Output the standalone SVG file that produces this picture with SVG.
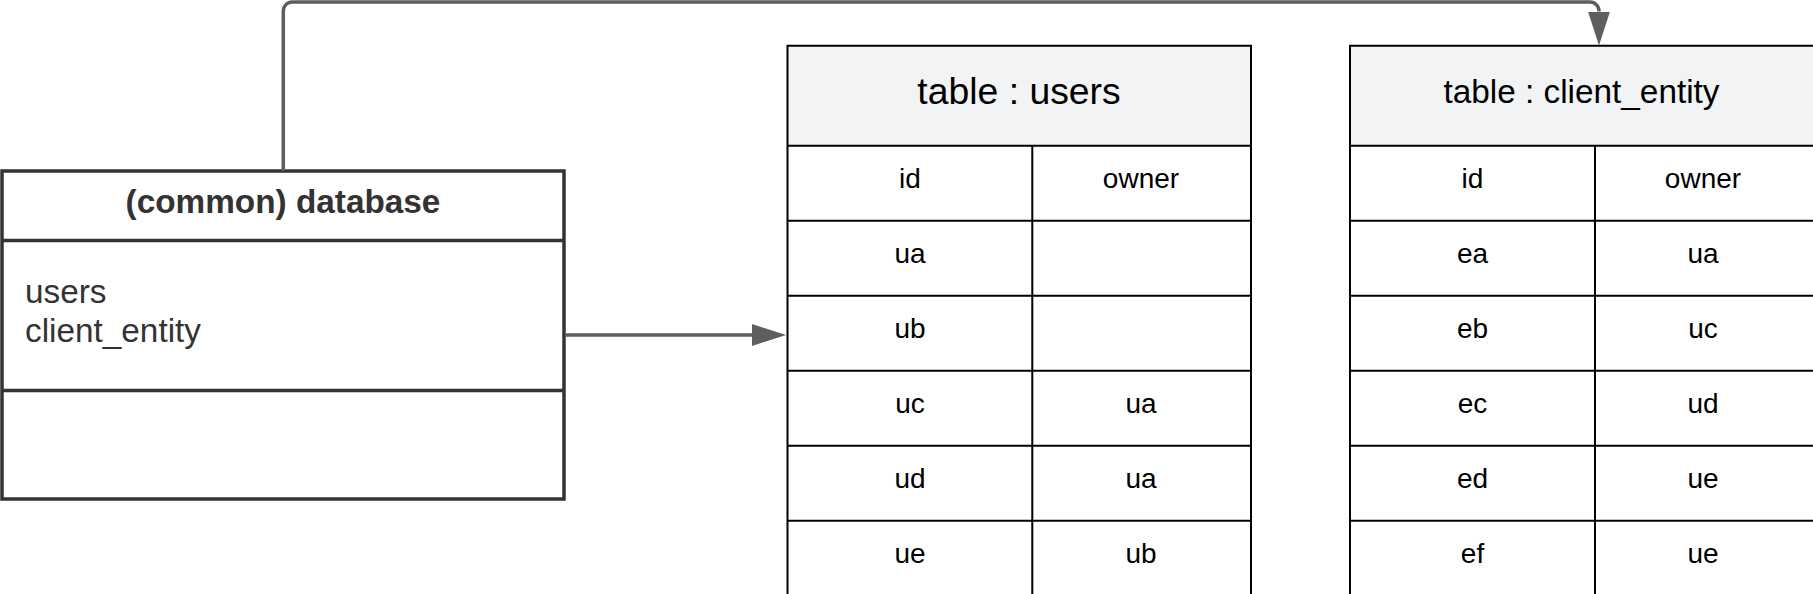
<svg xmlns="http://www.w3.org/2000/svg" width="1813" height="594" viewBox="0 0 1813 594">
<style>
.db{fill:#ffffff;stroke:#333333;stroke-width:3.5}
.dbl{stroke:#333333;stroke-width:3.5}
.dbt{font-family:"Liberation Sans",Arial,sans-serif;font-size:33.33px;fill:#333333}
.grid{stroke:#000000;stroke-width:2;fill:none}
.hdr{fill:#f2f3f5}
.cell{fill:#ffffff}
.tt{font-family:"Liberation Sans",Arial,sans-serif;fill:#000000;text-anchor:middle}
.conn{fill:none;stroke:#5e5e5e;stroke-width:3.5}
</style>
<defs>
<marker id="arr" markerUnits="userSpaceOnUse" markerWidth="36" markerHeight="24" refX="0" refY="11" orient="auto">
<path d="M0,0 L34,11 L0,22 z" fill="#5e5e5e"/>
</marker>
</defs>
<rect width="1813" height="594" fill="#ffffff"/>

<g id="node-database">
<rect class="db" x="2" y="171" width="562" height="328"/>
<line class="dbl" x1="2" y1="240.5" x2="564" y2="240.5"/>
<line class="dbl" x1="2" y1="390.5" x2="564" y2="390.5"/>
<text class="dbt" x="283" y="213.3" text-anchor="middle" font-weight="bold">(common) database</text>
<text class="dbt" x="25" y="302.7">users</text>
<text class="dbt" x="25" y="341.7">client_entity</text>
</g>

<g id="node-users">
<rect class="hdr" x="787.5" y="45.7" width="463.5" height="100"/>
<rect class="cell" x="787.5" y="145.7" width="463.5" height="450"/>
<path class="grid" d="M787.5,600 V45.7 H1251 V600 M787.5,145.7 H1251 M787.5,220.7 H1251 M787.5,295.7 H1251 M787.5,370.7 H1251 M787.5,445.7 H1251 M787.5,520.7 H1251 M1032.3,145.7 V600"/>
<text class="tt" x="1019" y="104" font-size="37.33px">table : users</text>
<g font-size="28px">
<text class="tt" x="910" y="188.3">id</text>
<text class="tt" x="1141" y="188.3">owner</text>
<text class="tt" x="910" y="263.3">ua</text>
<text class="tt" x="910" y="338.3">ub</text>
<text class="tt" x="910" y="413.3">uc</text>
<text class="tt" x="1141" y="413.3">ua</text>
<text class="tt" x="910" y="488.3">ud</text>
<text class="tt" x="1141" y="488.3">ua</text>
<text class="tt" x="910" y="563.3">ue</text>
<text class="tt" x="1141" y="563.3">ub</text>
</g>
</g>

<g id="node-client-entity">
<rect class="hdr" x="1350" y="45.7" width="465" height="100"/>
<rect class="cell" x="1350" y="145.7" width="465" height="450"/>
<path class="grid" d="M1350,600 V45.7 H1814 V600 M1350,145.7 H1814 M1350,220.7 H1814 M1350,295.7 H1814 M1350,370.7 H1814 M1350,445.7 H1814 M1350,520.7 H1814 M1595,145.7 V600"/>
<text class="tt" x="1581.5" y="102.5" font-size="33.33px">table : client_entity</text>
<g font-size="28px">
<text class="tt" x="1472.5" y="188.3">id</text>
<text class="tt" x="1703" y="188.3">owner</text>
<text class="tt" x="1472.5" y="263.3">ea</text>
<text class="tt" x="1703" y="263.3">ua</text>
<text class="tt" x="1472.5" y="338.3">eb</text>
<text class="tt" x="1703" y="338.3">uc</text>
<text class="tt" x="1472.5" y="413.3">ec</text>
<text class="tt" x="1703" y="413.3">ud</text>
<text class="tt" x="1472.5" y="488.3">ed</text>
<text class="tt" x="1703" y="488.3">ue</text>
<text class="tt" x="1472.5" y="563.3">ef</text>
<text class="tt" x="1703" y="563.3">ue</text>
</g>
</g>

<g id="connectors">
<path class="conn" d="M283.3,171 V11 A9,9 0 0 1 292.3,2 H1590 A9,9 0 0 1 1599,11 V11.5" marker-end="url(#arr)"/>
<path class="conn" d="M565,335 H752" marker-end="url(#arr)"/>
</g>
</svg>
